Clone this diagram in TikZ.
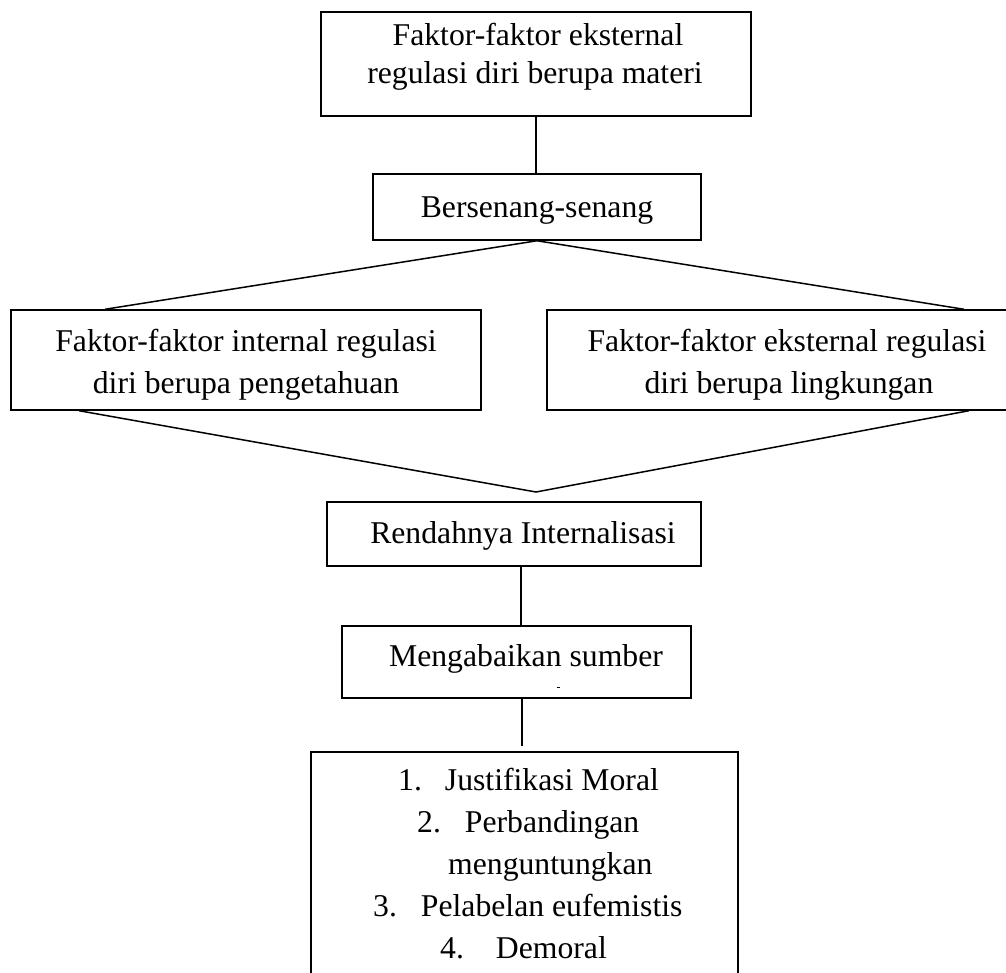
\documentclass[tikz,border=0pt]{standalone}
\usepackage{fontspec}
\setmainfont{Liberation Serif}
\begin{document}
\begin{tikzpicture}[x=1pt,y=-1pt,
  box/.style={draw,line width=1.5pt,rectangle,inner sep=0pt},
  conn/.style={line width=1.5pt},
  txt/.style={inner sep=0pt,anchor=base,font=\fontsize{31.7}{40}\selectfont},
  ltxt/.style={txt,anchor=base west}]
\useasboundingbox (0,0) rectangle (1006,973);
\clip (0,0) rectangle (1006,973);
% boxes
\node[box,minimum width=430pt,minimum height=104pt] (top) at (536,64) {};
\node[box,minimum width=328pt,minimum height=66pt] (bers) at (537,207) {};
\node[box,minimum width=470pt,minimum height=100pt] (left) at (246,360) {};
\node[box,minimum width=480pt,minimum height=100pt] (right) at (787,360) {};
\coordinate (apex) at (536,492);
\node[box,minimum width=374pt,minimum height=64pt] (rend) at (514,534) {};
\node[box,minimum width=349pt,minimum height=72pt] (meng) at (516.5,662) {};
\node[box,minimum width=427pt,minimum height=260pt,anchor=north] (bot) at (524.5,751) {};
% texts
\node[txt] (top1) at (538,46) {Faktor-faktor eksternal};
\node[txt] (top2) at (535,84) {regulasi diri berupa materi};
\node[txt] (berst) at (537,218) {Bersenang-senang};
\node[txt] (left1) at (246,352) {Faktor-faktor internal regulasi};
\node[txt] (left2) at (246,393) {diri berupa pengetahuan};
\node[txt] (right1) at (787,352) {Faktor-faktor eksternal regulasi};
\node[txt] (right2) at (789,393) {diri berupa lingkungan};
\node[txt] (rendt) at (523,543) {Rendahnya Internalisasi};
\node[txt] (mengt) at (526,666) {Mengabaikan sumber};
\draw[line width=0.8pt] (556.5,687) -- (559.5,687);
\node[ltxt] (l1) at (398,790) {1.\hspace{23pt}Justifikasi Moral};
\node[ltxt] (l2) at (417,832) {2.\hspace{24pt}Perbandingan};
\node[ltxt] (l3) at (448,874) {menguntungkan};
\node[ltxt] (l4) at (373,916) {3.\hspace{24pt}Pelabelan eufemistis};
\node[ltxt] (l5) at (440,958) {4.\hspace{32pt}Demoral};
% connectors
\draw[conn] (top.south) -- (top.south |- bers.north);
\draw[conn] ([xshift=95pt]left.north west) -- (bers.south) -- ([xshift=-64pt]right.north east);
\draw[conn] ([xshift=69pt]left.south west) -- (apex) -- ([xshift=-59pt]right.south east);
\draw[conn] ([xshift=7pt]rend.south) -- ([xshift=7pt]rend.south |- meng.north);
\draw[conn] ([xshift=5.5pt]meng.south) -- ([xshift=5.5pt,yshift=5pt]meng.south |- bot.north);
\end{tikzpicture}
\end{document}
